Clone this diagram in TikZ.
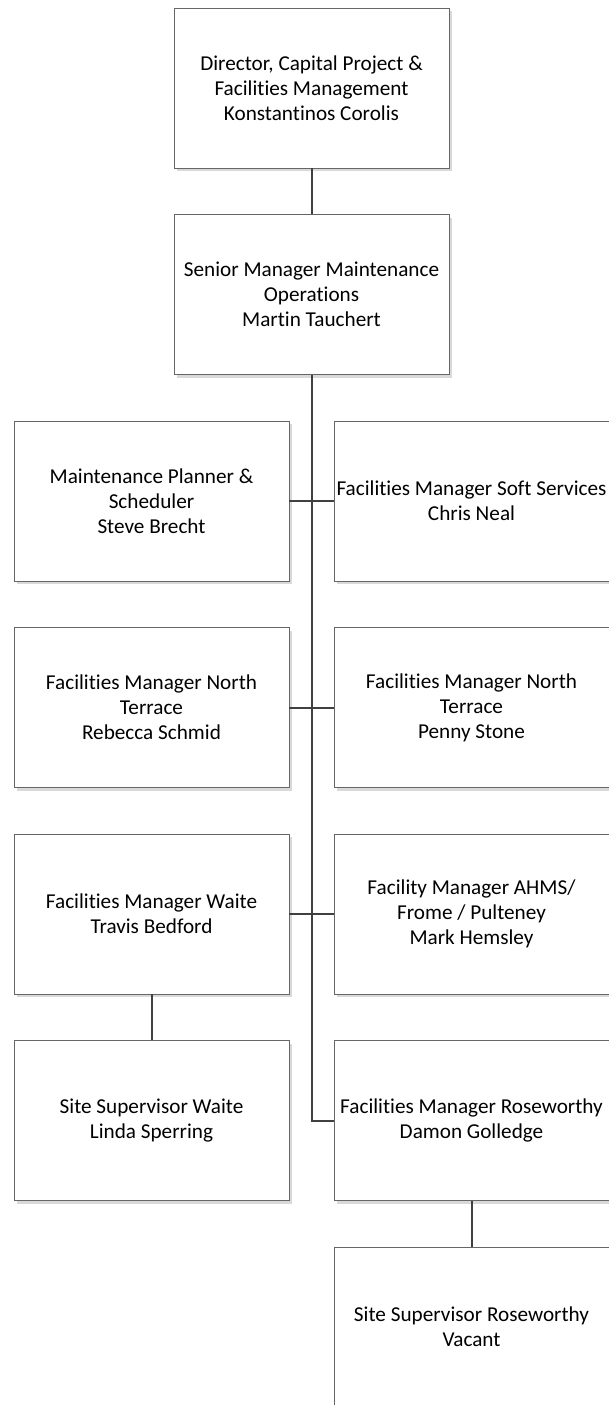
\documentclass[tikz,border=0pt]{standalone}
\usepackage{fontspec}
\setmainfont{Carlito}[Ligatures=NoCommon]
\usetikzlibrary{shadows}

\tikzset{
  post/.style={draw=black!60, fill=white, align=center, minimum width=137.5pt,
    minimum height=80pt, inner sep=0pt, font=\fontsize{10.6}{12.5}\selectfont,
    drop shadow={shadow xshift=1.5pt, shadow yshift=-1.5pt, fill=black!15, opacity=1}},
  link/.style={draw=black!75, line width=1pt}
}

\begin{document}
\begin{tikzpicture}[x=0.5pt,y=-0.5pt]
	\useasboundingbox (0,0) rectangle (609,1405);
	\node[post] (dir) at (311.5,88) {Director, Capital Project \&\\Facilities Management\\Konstantinos Corolis};
	\node[post] (sen) at (311.5,294.5) {Senior Manager Maintenance\\Operations\\Martin Tauchert};
	\node[post] (plan) at (151.5,501) {Maintenance Planner \&\\Scheduler\\Steve Brecht};
	\node[post] (soft) at (471.5,501) {Facilities Manager Soft Services\\Chris Neal};
	\node[post] (ntrs) at (151.5,707.5) {Facilities Manager North\\Terrace\\Rebecca Schmid};
	\node[post] (ntps) at (471.5,707.5) {Facilities Manager North\\Terrace\\Penny Stone};
	\node[post] (waite) at (151.5,914) {Facilities Manager Waite\\Travis Bedford};
	\node[post] (ahms) at (471.5,914) {Facility Manager AHMS/\\Frome / Pulteney\\Mark Hemsley};
	\node[post] (supw) at (151.5,1120.5) {Site Supervisor Waite\\Linda Sperring};
	\node[post] (rose) at (471.5,1120.5) {Facilities Manager Roseworthy\\Damon Golledge};
	\node[post] (supr) at (471.5,1327) {Site Supervisor Roseworthy\\Vacant};
	% reporting lines
	\draw[link] (dir) -- (sen);
	\draw[link] (sen.south) -- (sen.south |- rose.west) -- (rose.west);
	\draw[link] (plan) -- (soft);
	\draw[link] (ntrs) -- (ntps);
	\draw[link] (waite) -- (ahms);
	\draw[link] (waite) -- (supw);
	\draw[link] (rose) -- (supr);
\end{tikzpicture}
\end{document}
